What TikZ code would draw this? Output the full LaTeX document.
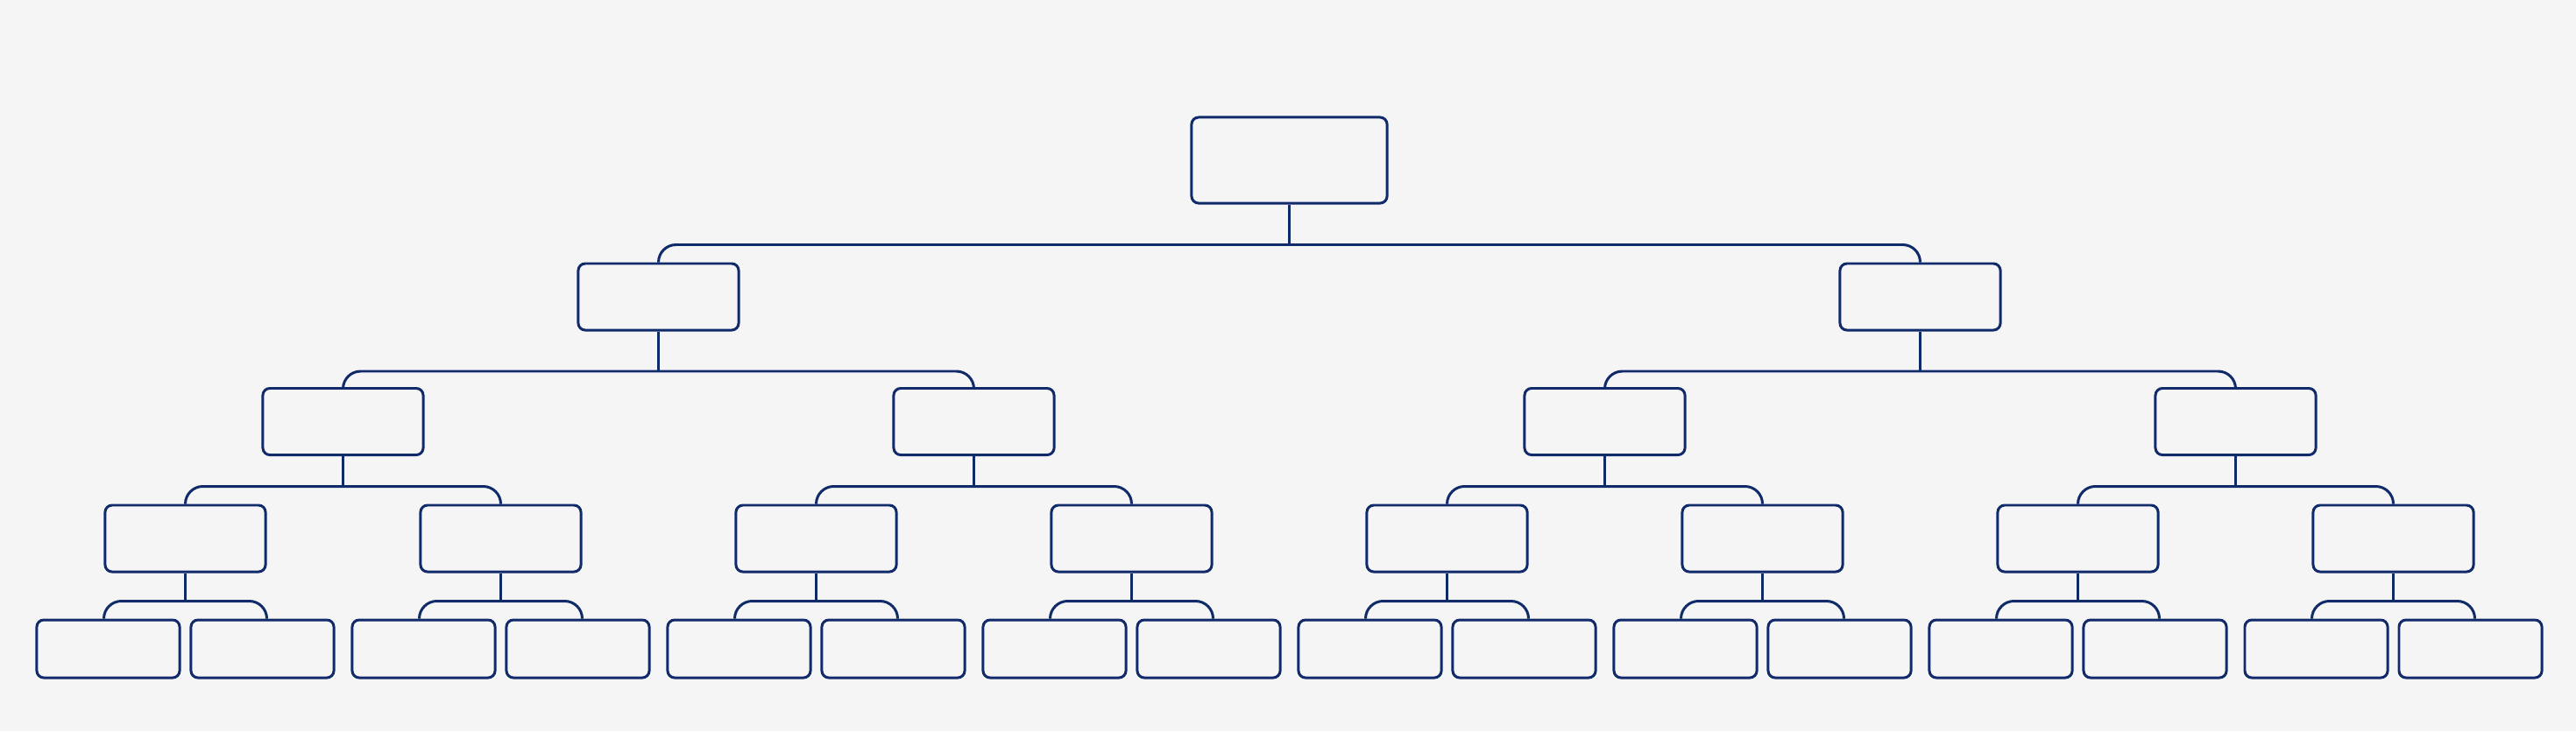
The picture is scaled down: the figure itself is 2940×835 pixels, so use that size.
\documentclass[tikz,border=0pt]{standalone}
\usetikzlibrary{positioning}

\definecolor{navy}{HTML}{102A6A}
\definecolor{paper}{HTML}{F5F5F5}

\tikzset{
  box/.style={draw=navy, line width=0.85pt, rounded corners=0.08cm, inner sep=0pt},
  big/.style={box, minimum width=2.23cm, minimum height=0.98cm},
  mid/.style={box, minimum width=1.83cm, minimum height=0.76cm},
  leaf/.style={box, minimum width=1.63cm, minimum height=0.66cm},
  link/.style={draw=navy, line width=0.85pt},
  bus/.style={link, rounded corners=0.2cm}
}

\begin{document}
\begin{tikzpicture}[x=0.01cm, y=-0.01cm]
\fill[paper] (0,0) rectangle (2940,835);

% boxes, level by level
\node[big] (top) at (1471.5,183) {};
\foreach \i [evaluate=\i as \x using 751.5+1440*\i] in {0,1}
  \node[mid] (a\i) at (\x,339) {};
\foreach \i [evaluate=\i as \x using 391.5+720*\i] in {0,...,3}
  \node[mid] (b\i) at (\x,481.5) {};
\foreach \i [evaluate=\i as \x using 211.5+360*\i] in {0,...,7}
  \node[mid] (c\i) at (\x,615) {};
\foreach \i [evaluate=\i as \x using 211.5+360*\i] in {0,...,7} {
  \node[leaf] (dl\i) at (\x-88,741) {};
  \node[leaf] (dr\i) at (\x+88,741) {};
}

% connectors
\draw[bus] (a0.north) -- ++(0,-20) coordinate (k) -| (a1.north);
\draw[link] (top.south) -- (top.south |- k);

\foreach \i [evaluate=\i as \l using int(2*\i), evaluate=\i as \r using int(2*\i+1)] in {0,1} {
  \draw[bus] (b\l.north) -- ++(0,-18) coordinate (k) -| (b\r.north);
  \draw[link] (a\i.south) -- (a\i.south |- k);
}
\foreach \i [evaluate=\i as \l using int(2*\i), evaluate=\i as \r using int(2*\i+1)] in {0,...,3} {
  \draw[bus] (c\l.north) -- ++(0,-20) coordinate (k) -| (c\r.north);
  \draw[link] (b\i.south) -- (b\i.south |- k);
}
\foreach \i in {0,...,7} {
  \draw[bus] ([xshift=-0.05cm]dl\i.north) -- ++(0,-20) coordinate (k) -| ([xshift=0.05cm]dr\i.north);
  \draw[link] (c\i.south) -- (c\i.south |- k);
}
\end{tikzpicture}
\end{document}
